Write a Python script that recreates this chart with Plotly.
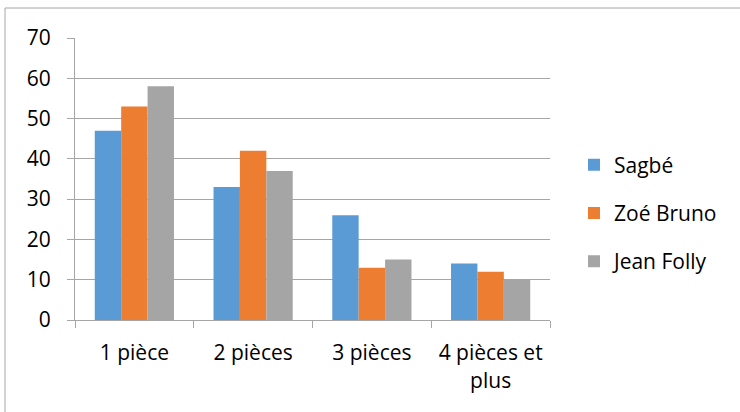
import plotly.graph_objects as go

categories = ["1 pièce", "2 pièces", "3 pièces", "4 pièces et<br>plus"]
series_names = ["Sagbé", "Zoé Bruno", "Jean Folly"]
sagbe = [47, 33, 26, 14]
zoe_bruno = [53, 42, 13, 12]
jean_folly = [58, 37, 15, 10]
colors = ["#5B9BD5", "#ED7D31", "#A5A5A5"]
y_ticks = [0, 10, 20, 30, 40, 50, 60, 70]

W, H = 740, 412
L, R, T, B = 75, 190, 38, 92
pw, ph = W - L - R, H - T - B

fig = go.Figure()
for i, (name, vals) in enumerate(zip(series_names, [sagbe, zoe_bruno, jean_folly])):
    fig.add_trace(go.Bar(name=name, x=categories, y=vals, marker_color=colors[i],
                         marker_line_width=0, legendgroup=name))

font = dict(family="Open Sans, Lato, sans-serif", size=21, color="#000000")

def px_to_paper_x(px):
    return (px - L) / pw

def px_to_paper_y(py):
    return (H - B - py) / ph

fig.add_shape(type="rect", xref="paper", yref="paper",
              x0=px_to_paper_x(5), x1=px_to_paper_x(760),
              y0=px_to_paper_y(430), y1=px_to_paper_y(8),
              line=dict(color="#a6a6a6", width=1), fillcolor="rgba(0,0,0,0)", layer="below")

fig.update_layout(
    width=W, height=H,
    margin=dict(l=L, r=R, t=T, b=B, autoexpand=False),
    paper_bgcolor="white", plot_bgcolor="white",
    barmode="group", bargap=0.333, bargroupgap=0,
    font=font,
    showlegend=True,
    legend=dict(x=px_to_paper_x(574), y=px_to_paper_y(213), xanchor="left", yanchor="middle",
                font=dict(size=21), tracegroupgap=18, itemwidth=30,
                bgcolor="rgba(0,0,0,0)"),
    xaxis=dict(type="category", tickson="boundaries", ticks="outside", ticklen=7,
               tickcolor="#a6a6a6", showline=True, linecolor="#a6a6a6", linewidth=1,
               showgrid=False, tickfont=font, ticklabelstandoff=14, automargin=False),
    yaxis=dict(range=[0, 70], tickvals=y_ticks, ticks="outside", ticklen=7,
               tickcolor="#a6a6a6", showline=True, linecolor="#a6a6a6", linewidth=1,
               showgrid=True, gridcolor="#a6a6a6", gridwidth=1, zeroline=False,
               tickfont=font, ticklabelstandoff=12, automargin=False),
)

fig.write_html("out.html", config={"displayModeBar": False},
               post_script="document.body.style.margin='0';document.body.style.overflow='hidden';")
